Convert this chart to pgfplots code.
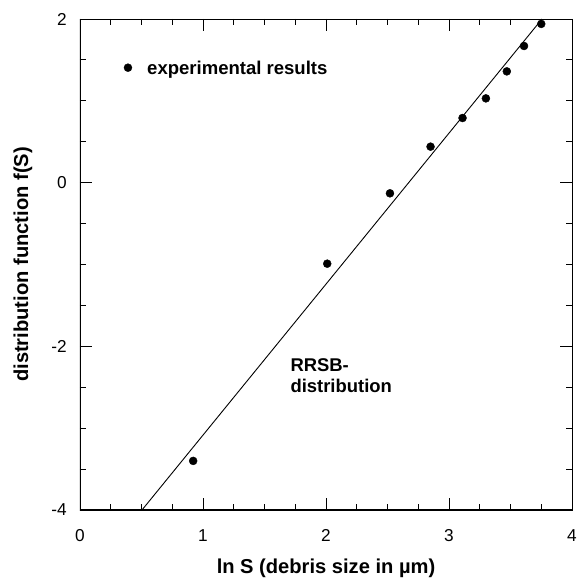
\documentclass[border=0pt]{standalone}
\usepackage{fontspec}
\setmainfont{Liberation Sans}
\usepackage{pgfplots}
\pgfplotsset{compat=1.18}

\begin{document}
\begin{tikzpicture}
\begin{axis}[
    name=ax,
    scale only axis,
    width=492bp, height=491bp,
    xmin=0, xmax=4, ymin=-4, ymax=2,
    xtick={0,1,2,3,4}, ytick={-4,-2,0,2},
    minor x tick num=3, minor y tick num=3,
    tick align=inside,
    major tick length=12bp, minor tick length=6.5bp,
    tick style={black, line width=0.9bp},
    axis line style={line width=0.8bp},
    /pgf/number format/assume math mode=true,
    tick label style={font=\fontsize{17.3}{20}\selectfont, inner sep=0pt},
    xticklabel style={anchor=north, yshift=-19.5bp},
    yticklabel style={anchor=east, xshift=-13bp},
    xlabel={\bfseries ln S (debris size in µm)},
    ylabel={\bfseries distribution function f(S)},
    label style={font=\fontsize{20.2}{24}\selectfont, inner sep=0pt},
    xlabel style={at={([yshift=-63bp]axis description cs:0.5,0)}, anchor=base},
    ylabel style={at={([xshift=-57bp]axis description cs:0,0.5)}, anchor=center},
]
\addplot[only marks, mark=*, mark size=4bp, black] coordinates {
    (0.92,-3.40) (2.01,-0.99) (2.52,-0.13) (2.85,0.44) (3.11,0.79)
    (3.30,1.03) (3.47,1.36) (3.61,1.67) (3.75,1.94)
};
\addplot[black, line width=0.9bp] coordinates {
    (0.504,-4) (3.756,2)
};
% legend marker
\addplot[only marks, mark=*, mark size=4bp, black] coordinates {(0.39,1.405)};
\node[anchor=base west, inner sep=0pt, font=\fontsize{18.6}{22}\selectfont\bfseries]
    at (axis cs:0.545,1.32) {experimental results};
\node[anchor=base west, inner sep=0pt, font=\fontsize{18.5}{22}\selectfont\bfseries]
    at (axis cs:1.71,-2.31) {RRSB-};
\node[anchor=base west, inner sep=0pt, font=\fontsize{18.5}{22}\selectfont\bfseries]
    at (axis cs:1.71,-2.57) {distribution};
\draw[line width=2.2bp] (rel axis cs:0,1) -- (rel axis cs:0,0) -- (rel axis cs:1,0);
\end{axis}
\path ([xshift=-80bp,yshift=-71bp]ax.south west) rectangle ([xshift=4bp,yshift=19bp]ax.north east);
\end{tikzpicture}
\end{document}
